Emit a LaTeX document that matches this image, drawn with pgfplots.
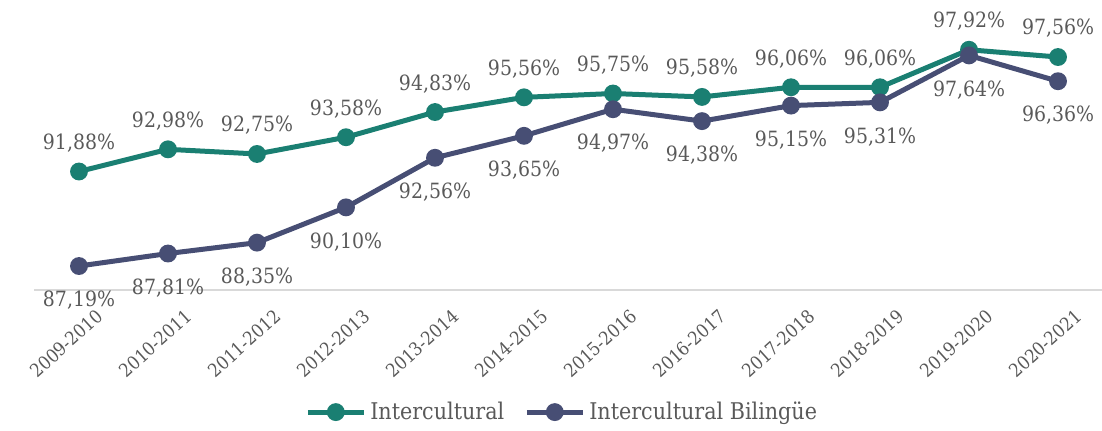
\documentclass[border=0pt]{standalone}
\usepackage{fontspec}
\setmainfont{DejaVu Serif Condensed}
\usepackage{pgfplots}
\pgfplotsset{compat=1.18}
\definecolor{cA}{HTML}{1A7F72}
\definecolor{cB}{HTML}{474E74}
\definecolor{txt}{HTML}{595959}
\definecolor{axl}{HTML}{D9D9D9}
\begin{document}
\begin{tikzpicture}
\begin{axis}[name=ax,
  scale only axis, width=534pt, height=131pt,
  xmin=-0.5, xmax=11.5, ymin=86, ymax=99,
  axis x line=bottom, axis y line=none,
  x axis line style={draw=axl, line width=0.8pt, -},
  xtick={0,...,11}, major tick length=0pt,
  xticklabels={2009-2010,2010-2011,2011-2012,2012-2013,2013-2014,2014-2015,2015-2016,2016-2017,2017-2018,2018-2019,2019-2020,2020-2021},
  x tick label style={rotate=42, anchor=north east, font=\fontsize{9.2}{10}\selectfont, text=txt, inner sep=1pt, yshift=-11pt, xshift=1pt},
  /pgf/number format/assume math mode=true,
  nodes near coords={\pgfmathprintnumber[fixed,fixed zerofill,precision=2,use comma]{\pgfplotspointmeta}\%},
  every node near coord/.append style={font=\fontsize{10.5}{12}\selectfont, text=txt},
  clip=false,
  legend style={at={(0.495,-0.466)}, anchor=center, draw=none, legend columns=2, font=\fontsize{11.5}{13}\selectfont, text=txt, inner sep=1pt, /tikz/every even column/.append style={column sep=8pt}},
  legend image code/.code={\draw[mark repeat=2,mark phase=2,#1] plot coordinates {(0pt,0pt) (14pt,0pt) (28pt,0pt)};},
]
\addplot[color=cA, line width=2.5pt, mark=*, mark size=3.2pt, mark options={solid},
  every node near coord/.append style={anchor=south, yshift=5pt}]
  coordinates {(0,91.88) (1,92.98) (2,92.75) (3,93.58) (4,94.83) (5,95.56) (6,95.75) (7,95.58) (8,96.06) (9,96.06) (10,97.92) (11,97.56)};
\addlegendentry{Intercultural}
\addplot[color=cB, line width=2.5pt, mark=*, mark size=3.2pt, mark options={solid},
  every node near coord/.append style={anchor=north, yshift=-8pt}]
  coordinates {(0,87.19) (1,87.81) (2,88.35) (3,90.10) (4,92.56) (5,93.65) (6,94.97) (7,94.38) (8,95.15) (9,95.31) (10,97.64) (11,96.36)};
\addlegendentry{Intercultural Bilingüe}
\end{axis}
\pgfresetboundingbox
\useasboundingbox ([shift={(-17.25pt,-70pt)}]ax.south west) rectangle ([shift={(533.75pt,145pt)}]ax.south west);
\end{tikzpicture}
\end{document}
